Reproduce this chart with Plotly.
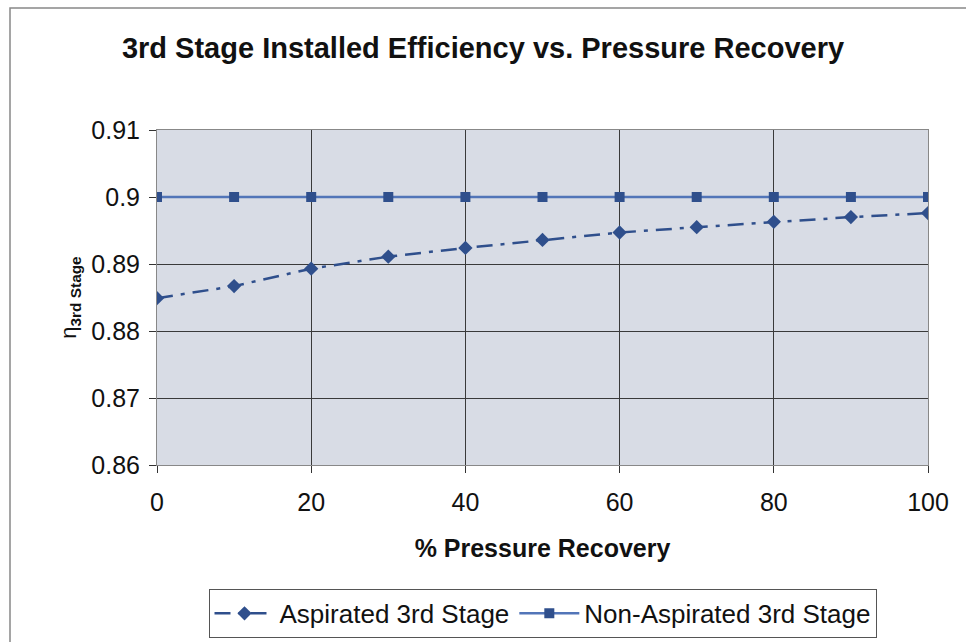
import plotly.graph_objects as go

recovery = [0, 10, 20, 30, 40, 50, 60, 70, 80, 90, 100]
aspirated = [0.8849, 0.8867, 0.8893, 0.8911, 0.8924, 0.8936, 0.8947, 0.8955, 0.8963, 0.8970, 0.8976]
non_aspirated = [0.900] * 11
x_ticks = [0, 20, 40, 60, 80, 100]
y_ticks = [0.86, 0.87, 0.88, 0.89, 0.90, 0.91]
y_tick_labels = ["0.86", "0.87", "0.88", "0.89", "0.9", "0.91"]

fig = go.Figure()
fig.add_trace(go.Scatter(
    x=recovery, y=aspirated, name="Aspirated 3rd Stage",
    mode="lines+markers",
    line=dict(color="#2f4f8c", width=2.5, dash="16px,8px,4px,8px"),
    marker=dict(symbol="diamond", size=11, color="#2f4f8c"),
))
fig.add_trace(go.Scatter(
    x=recovery, y=non_aspirated, name="Non-Aspirated 3rd Stage",
    mode="lines+markers",
    line=dict(color="#5275b8", width=2.5),
    marker=dict(symbol="square", size=10, color="#2f4f8c"),
))

font_family = "Liberation Sans, Arial, sans-serif"
fig.update_layout(
    width=966, height=642,
    margin=dict(l=157, r=38, t=130, b=177, autoexpand=False),
    paper_bgcolor="white",
    plot_bgcolor="#d8dce5",
    font=dict(family=font_family, color="#111111", size=24),
    title=dict(text="<b>3rd Stage Installed Efficiency vs. Pressure Recovery</b>",
               x=0.5, xanchor="center", y=1 - 48 / 642, yanchor="middle",
               font=dict(size=29)),
    showlegend=True,
    legend=dict(orientation="h", x=0.5, xanchor="center", y=-0.37, yanchor="top",
                bordercolor="#555555", borderwidth=1, font=dict(size=26),
                itemwidth=60, tracegroupgap=0),
    xaxis=dict(range=[0, 100], tickvals=x_ticks, automargin=False,
               showgrid=True, gridcolor="#3a3a3a", gridwidth=1,
               ticks="outside", ticklen=7, tickcolor="#333333",
               showline=True, linecolor="#888888", mirror=True, zeroline=False,
               tickfont=dict(size=25), ticklabelstandoff=8,
               title=dict(text="<b>% Pressure Recovery</b>", font=dict(size=25), standoff=24)),
    yaxis=dict(range=[0.86, 0.91], tickvals=y_ticks, ticktext=y_tick_labels, automargin=False,
               showgrid=True, gridcolor="#3a3a3a", gridwidth=1,
               ticks="outside", ticklen=7, tickcolor="#333333",
               showline=True, linecolor="#888888", mirror=True, zeroline=False,
               tickfont=dict(size=25), ticklabelstandoff=4,
               title=dict(text="η<sub><b>3rd Stage</b></sub>", font=dict(size=22), standoff=8)),
)
fig.add_shape(type="rect", xref="paper", yref="paper",
              x0=-147 / 771, x1=1 + 80 / 771, y0=-1.0, y1=1 + 122 / 335,
              line=dict(color="#888888", width=1.5), fillcolor="rgba(0,0,0,0)", layer="below")
fig.write_html("out.html")
